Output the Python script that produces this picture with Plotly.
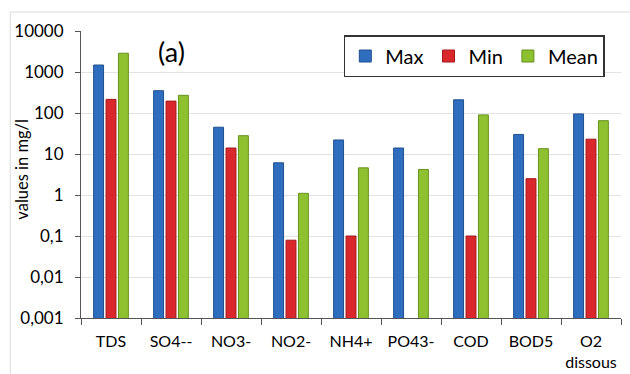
import plotly.graph_objects as go

categories = ["TDS", "SO4--", "NO3-", "NO2-", "NH4+", "PO43-", "COD", "BOD5", "O2<br>dissous"]
max_vals = [1480, 350, 45, 6.1, 22, 14, 210, 30, 95]
min_vals = [215, 195, 14, 0.079, 0.1, None, 0.1, 2.5, 23]
mean_vals = [2870, 270, 28, 1.1, 4.6, 4.2, 90, 13.5, 65]
tick_vals = [0.001, 0.01, 0.1, 1, 10, 100, 1000, 10000]
tick_text = ["0,001", "0,01", "0,1", "1", "10", "100", "1000", "10000"]

FONT = "Lato, 'Open Sans', sans-serif"

fig = go.Figure()
series = [("Max", max_vals, "#2f6dbf", "#1f4f8f"),
          ("Min", min_vals, "#d9272b", "#a31a1d"),
          ("Mean", mean_vals, "#8dc12f", "#67921f")]
for name, vals, col, edge in series:
    fig.add_trace(go.Bar(x=categories, y=vals, name=name,
                         marker=dict(color=col, line=dict(color=edge, width=1))))

fig.update_layout(
    width=630, height=374,
    margin=dict(l=81, r=9, t=31, b=56),
    paper_bgcolor="white", plot_bgcolor="white",
    barmode="group", bargap=0.38, bargroupgap=0.2,
    font=dict(family=FONT, size=16, color="black"),
    legend=dict(orientation="h", x=0.97, xanchor="right", y=0.986, yanchor="top",
                bordercolor="#333333", borderwidth=1.5, bgcolor="white",
                font=dict(size=20), itemwidth=30, tracegroupgap=0),
    annotations=[
        dict(text="(a)", x=0.167, y=0.93, xref="paper", yref="paper",
             xanchor="center", yanchor="middle",
             showarrow=False, font=dict(size=27, family=FONT)),
        dict(text="values in mg/l", x=-0.11, y=0.519, xref="paper", yref="paper",
             xanchor="center", yanchor="middle", textangle=-90,
             showarrow=False, font=dict(size=16.5, family=FONT)),
    ],
    shapes=[dict(type="rect", xref="paper", yref="paper", x0=-0.131, x1=1.2,
                 y0=-0.3, y1=1.066, line=dict(color="#d9d9d9", width=1),
                 layer="below")],
)
fig.update_yaxes(type="log", range=[-3, 4], tickvals=tick_vals, ticktext=tick_text,
                 showgrid=True, gridcolor="#e3e3e3", showline=True, linecolor="#555555",
                 ticks="outside", ticklen=5, tickcolor="#555555", ticklabelstandoff=8,
                 tickfont=dict(size=17), automargin=False)
fig.update_xaxes(showline=True, linecolor="#555555", ticks="outside", tickson="boundaries",
                 ticklen=6, tickcolor="#555555", ticklabelstandoff=9, tickangle=0,
                 tickfont=dict(size=16), automargin=False)

fig.write_html("out.html")
